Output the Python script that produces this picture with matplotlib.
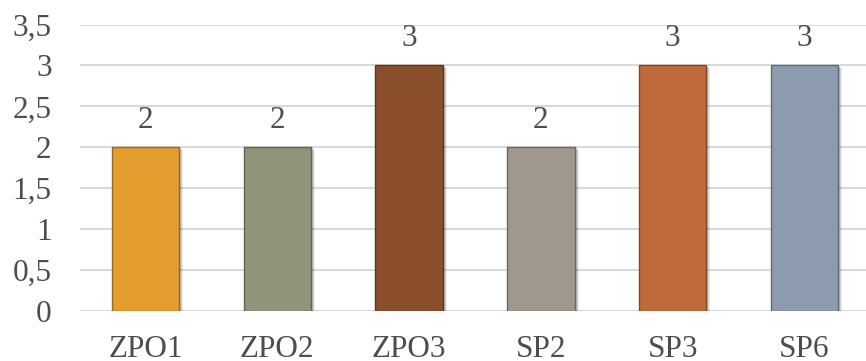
import matplotlib
matplotlib.use("Agg")
import matplotlib.pyplot as plt
from matplotlib.patches import Rectangle
import matplotlib.transforms as mtransforms

categories = ["ZPO1", "ZPO2", "ZPO3", "SP2", "SP3", "SP6"]
values = [2, 2, 3, 2, 3, 3]
colors = ["#E39D2F", "#8F957A", "#8B4F2B", "#A0988C", "#BE6A3A", "#8C9BAE"]
edges = ["#9A6A20", "#60654F", "#5E3520", "#6C665E", "#834827", "#5F6977"]
yticks = [0, 0.5, 1, 1.5, 2, 2.5, 3, 3.5]
ytick_labels = ["0", "0,5", "1", "1,5", "2", "2,5", "3", "3,5"]

plt.rcParams['font.family'] = ['Liberation Serif', 'DejaVu Serif']
fig = plt.figure(figsize=(8.66, 3.61), dpi=100)
ax = fig.add_axes([79.5/866, 1 - 311/361, 791/866, (311-24.5)/361])

x = list(range(len(categories)))
# shadows
for xi, v in zip(x, values):
    for off, a in [(4, 0.08), (3, 0.10), (2, 0.12)]:
        shadow = Rectangle((xi - 0.255, 0), 0.51, v, facecolor="#000000", alpha=a,
                           edgecolor="none", zorder=2,
                           transform=mtransforms.offset_copy(ax.transData, fig=fig, x=off, y=-off * 0.6, units='dots'))
        ax.add_patch(shadow)
bars = ax.bar(x, values, width=0.51, color=colors, edgecolor=edges, linewidth=1.0, zorder=3)

for xi, v in zip(x, values):
    ax.text(xi, v + 0.24, f"{v}", ha="center", va="baseline", fontsize=22.5, color="#4D4D4D", zorder=4)

ax.set_xlim(-0.5, len(categories) - 0.5)
ax.set_ylim(0, 3.5)
ax.set_yticks(yticks)
ax.set_yticklabels(ytick_labels)
ax.set_xticks(x)
ax.set_xticklabels(categories)
ax.tick_params(axis='both', length=0, labelsize=22.5, labelcolor="#4D4D4D")
ax.tick_params(axis='y', pad=20)
ax.tick_params(axis='x', pad=17)
ax.grid(axis='y', color="#D9D9D9", linewidth=1.5, zorder=0)
ax.set_axisbelow(True)
for s in ax.spines.values():
    s.set_visible(False)

fig.savefig("out.png", dpi=100)
